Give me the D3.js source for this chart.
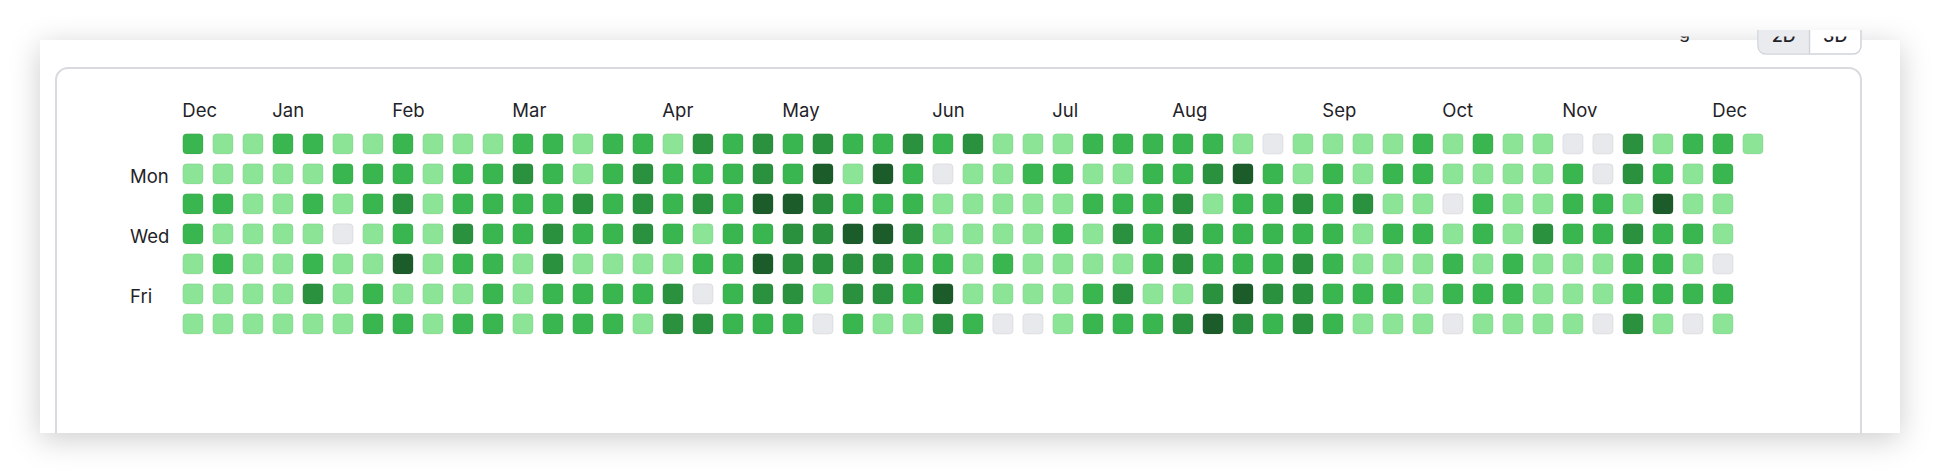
<!DOCTYPE html>
<html>
<head>
<meta charset="utf-8">
<script src="https://cdn.jsdelivr.net/npm/d3@7"></script>
<style>
  html, body { margin: 0; padding: 0; background: #ffffff; }
  svg { display: block; }
</style>
</head>
<body>
<svg id="chart" width="1940" height="474"></svg>
<script>
// ---- data: contribution level (0-4) per week column, one array per weekday row ----
const sun = [2,1,1,2,2,1,1,2,1,1,1,2,2,1, 2,2,1,3,2,3,2,3,2,2,3,2,3, 1,1,1,2,2,2,2,2,1,0,1,1,1, 1,2,1,2,1,1,0,0,3,1,2,2,1];
const mon = [1,1,1,1,1,2,2,2,1,2,2,3,2,1, 2,3,2,2,2,3,2,4,1,4,2,0,1, 1,2,2,1,1,2,2,3,4,2,1,2,1, 2,2,1,1,1,1,2,0,3,2,1,2];
const tue = [2,2,1,1,2,1,2,3,1,2,2,2,2,3, 2,3,2,3,2,4,4,3,2,2,2,1,1, 1,1,1,2,2,2,3,1,2,2,3,2,3, 1,1,0,2,1,1,2,2,1,4,1,1];
const wed = [2,1,1,1,1,0,1,2,1,3,2,2,3,2, 2,3,2,1,2,2,3,3,4,4,3,1,1, 1,1,2,1,3,2,3,2,2,2,2,2,1, 2,2,1,2,1,3,2,2,3,2,2,1];
const thu = [1,2,1,1,2,1,1,4,1,2,2,1,3,1, 1,1,1,2,2,4,3,3,3,3,2,2,1, 2,1,1,1,1,2,3,2,2,2,3,2,1, 1,1,2,1,2,1,1,1,2,2,1,0];
const fri = [1,1,1,1,3,1,2,1,1,1,2,1,2,2, 2,2,3,0,2,3,3,1,3,3,2,4,1, 1,1,1,2,3,1,1,3,4,3,3,2,2, 2,1,2,2,2,1,1,1,2,2,2,2];
const sat = [1,1,1,1,1,1,2,2,1,2,2,1,2,2, 2,1,3,3,2,2,2,0,2,1,1,3,2, 0,0,1,2,2,2,3,4,3,2,3,2,1, 1,1,0,1,1,1,1,0,3,1,0,1];
const rows = [sun, mon, tue, wed, thu, fri, sat];

const monthLabels = ["Dec","Jan","Feb","Mar","Apr","May","Jun","Jul","Aug","Sep","Oct","Nov","Dec"];
const monthWeeks  = [0, 3, 7, 11, 16, 20, 25, 29, 33, 38, 42, 46, 51];
const dayLabels = ["Mon","Wed","Fri"];
const dayRows   = [1, 3, 5];
const levels = [0,1,2,3,4];
const levelColors = ["#e7e9ed","#8ce597","#39b64f","#2a913e","#1c5c2b"];
const toggleLabels = ["2D","3D"];

const nWeeks = 53;
const cells = [];
rows.forEach((arr, r) => arr.forEach((v, c) => cells.push({week: c, day: r, level: v})));

// ---- drawing ----
const svg = d3.select("#chart");
const defs = svg.append("defs");
const f = defs.append("filter").attr("id","shadow").attr("x","-10%").attr("y","-50%").attr("width","120%").attr("height","200%");
f.append("feDropShadow").attr("dx",0).attr("dy",6).attr("stdDeviation",15)
  .attr("flood-color","#000").attr("flood-opacity",0.2);

defs.append("clipPath").attr("id","panelClip").append("rect")
  .attr("x",40).attr("y",40).attr("width",1860).attr("height",393);
defs.append("clipPath").attr("id","headClip").append("rect")
  .attr("x",40).attr("y",36.5).attr("width",1860).attr("height",30);
defs.append("clipPath").attr("id","btnClip").append("rect")
  .attr("x",40).attr("y",30).attr("width",1860).attr("height",30);

// page panel with shadow
svg.append("rect").attr("x",40).attr("y",40).attr("width",1860).attr("height",393)
  .attr("fill","#fff").attr("filter","url(#shadow)");

const panel = svg.append("g").attr("clip-path","url(#panelClip)");
panel.append("rect").attr("x",40).attr("y",40).attr("width",1860).attr("height",393).attr("fill","#fff");

// card
panel.append("rect").attr("x",56).attr("y",68).attr("width",1805).attr("height",420)
  .attr("rx",12).attr("fill","#fff").attr("stroke","#d8dadf").attr("stroke-width",2);

// header (clipped remnants)
const btnX = d3.scaleBand().domain(toggleLabels).range([1758, 1861]);
const btn = svg.append("g").attr("clip-path","url(#btnClip)");
btn.append("rect").attr("x",1758).attr("y",10).attr("width",103).attr("height",44).attr("rx",8)
  .attr("fill","#fff").attr("stroke","#d0d4da").attr("stroke-width",1.5);
btn.append("path")
  .attr("d",`M${btnX("2D")+8},10.75 H${btnX("3D")} V53.25 H${btnX("2D")+8} a7.25,7.25 0 0 1 -7.25,-7.25 V18 a7.25,7.25 0 0 1 7.25,-7.25 Z`)
  .attr("fill","#e9ebef");
btn.append("line").attr("x1",btnX("3D")).attr("x2",btnX("3D")).attr("y1",10).attr("y2",54)
  .attr("stroke","#d0d4da").attr("stroke-width",1.5);

const head = svg.append("g").attr("clip-path","url(#headClip)");
head.append("text").attr("x",1690).attr("y",38).attr("text-anchor","end")
  .attr("font-family","Inter, 'Noto Sans', sans-serif").attr("font-size",18).attr("fill","#1f2328").text("g");
head.selectAll("text.btn").data(toggleLabels).join("text").attr("class","btn")
  .attr("x", d => btnX(d) + btnX.bandwidth()/2).attr("y",41.5).attr("text-anchor","middle")
  .attr("font-family","Inter, 'Noto Sans', sans-serif").attr("font-size",18).attr("font-weight",500)
  .attr("fill","#1f2328").text(d => d);

// scales
const x = d3.scaleBand().domain(d3.range(nWeeks)).range([182.3, 182.3 + 30 * (nWeeks - 0.29)]).paddingInner(0.29).paddingOuter(0);
const y = d3.scaleBand().domain(d3.range(7)).range([133.3, 133.3 + 30 * (7 - 0.29)]).paddingInner(0.29).paddingOuter(0);
const color = d3.scaleOrdinal().domain(levels).range(levelColors);

const g = panel.append("g");
g.selectAll("rect.day").data(cells).join("rect").attr("class","day")
  .attr("x", d => x(d.week) + 0.5).attr("y", d => y(d.day) + 0.5)
  .attr("width", x.bandwidth() - 1).attr("height", y.bandwidth() - 1)
  .attr("rx", 4).attr("ry", 4)
  .attr("fill", d => color(d.level))
  .attr("stroke", "rgba(27,31,35,0.07)").attr("stroke-width", 1);

// month labels
g.selectAll("text.month").data(monthLabels).join("text").attr("class","month")
  .attr("x", (d, i) => x(monthWeeks[i])).attr("y", 116.5)
  .attr("font-family","Inter, 'Noto Sans', sans-serif").attr("font-size",18.5).attr("fill","#1f2328")
  .text(d => d);

// weekday labels
g.selectAll("text.wd").data(dayLabels).join("text").attr("class","wd")
  .attr("x", 130).attr("y", (d, i) => y(dayRows[i]) + y.bandwidth()/2 + 9)
  .attr("font-family","Inter, 'Noto Sans', sans-serif").attr("font-size",18.5).attr("fill","#1f2328")
  .text(d => d);
</script>
</body>
</html>
